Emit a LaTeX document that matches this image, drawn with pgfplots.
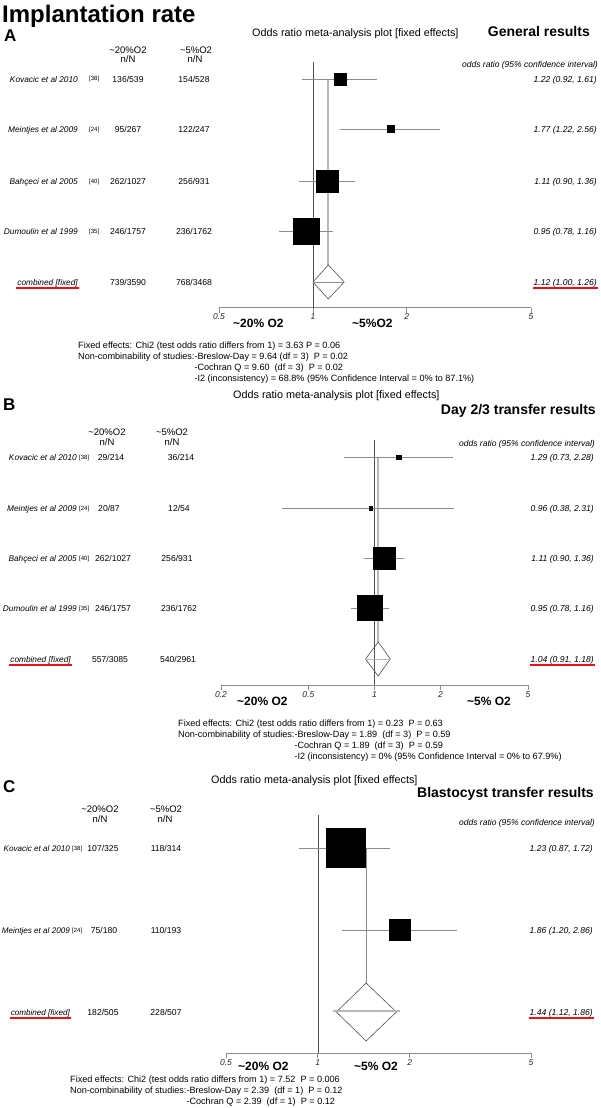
\documentclass[border=0pt]{standalone}
\usepackage{pgfplots}
\pgfplotsset{compat=1.18}
\usepackage{fontspec}
\setmainfont{Liberation Sans}
\newcommand\fs[1]{\fontsize{#1}{#1}\selectfont}
\definecolor{lgray}{HTML}{B8B8B8}
\definecolor{mgray}{HTML}{8C8C8C}
\definecolor{dgray}{HTML}{505050}
\definecolor{ulred}{HTML}{E8101A}
\pgfplotsset{
  every axis/.append style={
  scale only axis, axis x line*=bottom, axis y line=none,
  enlargelimits=false, clip=false,
  x axis line style={mgray, line width=0.8pt},
  xtick style={mgray, line width=0.8pt},
  tick align=outside, major tick length=5pt,
  xticklabel style={font=\fs{8.5}\itshape, text=black!85, inner sep=1pt},
  ytick=\empty},
}
\tikzset{
  r/.style={inner sep=0pt, font=\fs{8.6}},
  ri/.style={inner sep=0pt, font=\fs{8.3}\itshape},
  ric/.style={inner sep=0pt, font=\fs{8.1}\itshape},
  ro/.style={inner sep=0pt, font=\fs{8.6}\itshape},
  rf/.style={inner sep=0pt, font=\fs{6}},
  hd/.style={inner sep=0pt, font=\fs{9.5}},
  st/.style={inner sep=0pt, font=\fontsize{9.1}{11}\selectfont},
  tt/.style={inner sep=0pt, font=\fs{10.8}},
  bt/.style={inner sep=0pt, font=\fs{14}\bfseries},
  lt/.style={inner sep=0pt, font=\fs{17}\bfseries},
  lb/.style={inner sep=0pt, font=\fs{12}\bfseries},
  hr/.style={inner sep=0pt, font=\fs{8.5}\itshape},
  ul/.style={ulred, line width=1.3pt},
}
\begin{document}
\begin{tikzpicture}
\path[use as bounding box] (0pt,0pt) rectangle (600pt,-1108pt);

% ================= Panel A =================
\begin{axis}[xmode=log, at={(219pt,-307.5pt)}, anchor=south west, width=312pt, height=257.5pt,
  xmin=0.5, xmax=5, ymin=-307.5, ymax=-50,
  xtick={0.5,1,2,5}, xticklabels={0.5,1,2,5}]
\addplot[dgray, line width=0.6pt] coordinates {(1,-62) (1,-307.5)};
\addplot[lgray, line width=1.6pt] coordinates {(1.12,-79) (1.12,-265)};
\addplot[mgray, line width=0.6pt] coordinates {(0.92,-79) (1.61,-79)};
\addplot[mgray, line width=0.6pt] coordinates {(1.22,-129) (2.56,-129)};
\addplot[mgray, line width=0.6pt] coordinates {(0.90,-181) (1.36,-181)};
\addplot[mgray, line width=0.6pt] coordinates {(0.78,-231) (1.16,-231)};
\addplot[only marks, mark=square*, mark size=6pt, black] coordinates {(1.22,-79)};
\addplot[only marks, mark=square*, mark size=3.5pt, black] coordinates {(1.77,-129)};
\addplot[only marks, mark=square*, mark size=11pt, black] coordinates {(1.11,-181)};
\addplot[only marks, mark=square*, mark size=12.8pt, black] coordinates {(0.95,-231)};
\addplot[dgray, line width=0.6pt] coordinates {(1.00,-282) (1.12,-265) (1.26,-282) (1.12,-299) (1.00,-282)};
\addplot[mgray, line width=0.5pt] coordinates {(1.00,-282) (1.26,-282)};
\end{axis}

% ================= Panel B =================
\begin{axis}[xmode=log, at={(221pt,-685pt)}, anchor=south west, width=307pt, height=265pt,
  xmin=0.2, xmax=5, ymin=-685, ymax=-420,
  xtick={0.2,0.5,1,2,5}, xticklabels={0.2,0.5,1,2,5}]
\addplot[dgray, line width=0.6pt] coordinates {(1,-440) (1,-685)};
\addplot[lgray, line width=1.6pt] coordinates {(1.04,-457) (1.04,-642)};
\addplot[mgray, line width=0.6pt] coordinates {(0.73,-457) (2.28,-457)};
\addplot[mgray, line width=0.6pt] coordinates {(0.38,-508) (2.31,-508)};
\addplot[mgray, line width=0.6pt] coordinates {(0.90,-558) (1.36,-558)};
\addplot[mgray, line width=0.6pt] coordinates {(0.78,-608) (1.16,-608)};
\addplot[only marks, mark=square*, mark size=2.2pt, black] coordinates {(1.29,-457)};
\addplot[only marks, mark=square*, mark size=1.9pt, black] coordinates {(0.96,-508)};
\addplot[only marks, mark=square*, mark size=11pt, black] coordinates {(1.11,-558)};
\addplot[only marks, mark=square*, mark size=12.5pt, black] coordinates {(0.95,-608)};
\addplot[dgray, line width=0.6pt] coordinates {(0.91,-659) (1.04,-642) (1.18,-659) (1.04,-676) (0.91,-659)};
\addplot[lgray, line width=1pt] coordinates {(0.91,-659) (1.18,-659)};
\end{axis}

% ================= Panel C =================
\begin{axis}[xmode=log, at={(226pt,-1053pt)}, anchor=south west, width=305pt, height=253pt,
  xmin=0.5, xmax=5, ymin=-1053, ymax=-800,
  xtick={0.5,1,2,5}, xticklabels={0.5,1,2,5}]
\addplot[dgray, line width=0.6pt] coordinates {(1,-815) (1,-1053)};
\addplot[mgray, line width=0.8pt] coordinates {(1.44,-848) (1.44,-983)};
\addplot[mgray, line width=0.6pt] coordinates {(0.87,-848) (1.72,-848)};
\addplot[mgray, line width=0.6pt] coordinates {(1.20,-930) (2.86,-930)};
\addplot[only marks, mark=square*, mark size=19.5pt, black] coordinates {(1.23,-848)};
\addplot[only marks, mark=square*, mark size=10.5pt, black] coordinates {(1.86,-930)};
\addplot[dgray, line width=0.6pt] coordinates {(1.15,-1012) (1.44,-983) (1.81,-1012) (1.44,-1041) (1.15,-1012)};
\addplot[lgray, line width=1.2pt] coordinates {(1.12,-1011) (1.86,-1011)};
\end{axis}

\begin{scope}[x=1pt,y=1pt]
% ---- A text
\node[inner sep=0pt, font=\fs{24}\bfseries, anchor=base west] at (2,-23) {Implantation rate};
\node[lt, anchor=base west] at (4,-42) {A};
\node[tt, anchor=base west] at (252,-37) {Odds ratio meta-analysis plot [fixed effects]};
\node[bt, anchor=base east] at (590,-37) {General results};
\node[hd, anchor=base] at (128,-53) {\textasciitilde20\%O2};
\node[hd, anchor=base] at (128,-63) {n/N};
\node[hd, anchor=base] at (196,-53) {\textasciitilde5\%O2};
\node[hd, anchor=base] at (195,-63) {n/N};
\node[hr, anchor=base east] at (598,-67) {odds ratio (95\% confidence interval)};

\node[ri, anchor=base east] at (78,-82) {Kovacic et al 2010};
\node[rf, anchor=base west] at (89,-81) {[38]};
\node[r, anchor=base] at (128,-82) {136/539};
\node[r, anchor=base] at (194,-82) {154/528};
\node[ro, anchor=base east] at (597,-82) {1.22 (0.92, 1.61)};

\node[ri, anchor=base east] at (78,-132) {Meintjes et al 2009};
\node[rf, anchor=base west] at (89,-131) {[24]};
\node[r, anchor=base] at (128,-132) {95/267};
\node[r, anchor=base] at (194,-132) {122/247};
\node[ro, anchor=base east] at (597,-132) {1.77 (1.22, 2.56)};

\node[ri, anchor=base east] at (78,-184) {Bahçeci et al 2005};
\node[rf, anchor=base west] at (89,-183) {[40]};
\node[r, anchor=base] at (128,-184) {262/1027};
\node[r, anchor=base] at (194,-184) {256/931};
\node[ro, anchor=base east] at (597,-184) {1.11 (0.90, 1.36)};

\node[ri, anchor=base east] at (78,-234) {Dumoulin et al 1999};
\node[rf, anchor=base west] at (89,-233) {[35]};
\node[r, anchor=base] at (128,-234) {246/1757};
\node[r, anchor=base] at (194,-234) {236/1762};
\node[ro, anchor=base east] at (597,-234) {0.95 (0.78, 1.16)};

\node[ri, anchor=base east] (ca) at (78,-285) {combined [fixed]};
\draw[ul] ([xshift=-1pt,yshift=-3pt]ca.base west) -- ([xshift=1pt,yshift=-3pt]ca.base east);
\node[r, anchor=base] at (128,-285) {739/3590};
\node[r, anchor=base] at (194,-285) {768/3468};
\node[ro, anchor=base east] (oa) at (597,-285) {1.12 (1.00, 1.26)};
\draw[ul] ([yshift=-3pt]oa.base west) -- ([xshift=1pt,yshift=-3pt]oa.base east);

\node[lb, anchor=base west] at (233,-327) {\textasciitilde20\% O2};
\node[lb, anchor=base west] at (352,-327) {\textasciitilde5\%O2};

\node[st, anchor=base west] at (78,-348) {\begin{tabular}[t]{@{}l@{}l@{}}
\multicolumn{2}{@{}l@{}}{Fixed effects: Chi2 (test odds ratio differs from 1) = 3.63 P = 0.06}\\
Non-combinability of studies:&-Breslow-Day = 9.64 (df = 3)\ \ P = 0.02\\
&-Cochran Q = 9.60\ \ (df = 3)\ \ P = 0.02\\
&-I2 (inconsistency) = 68.8\% (95\% Confidence Interval = 0\% to 87.1\%)
\end{tabular}};

% ---- B text
\node[tt, anchor=base west] at (233,-398) {Odds ratio meta-analysis plot [fixed effects]};
\node[lt, anchor=base west] at (3,-410) {B};
\node[bt, anchor=base east] at (596,-414) {Day 2/3 transfer results};
\node[hd, anchor=base] at (107,-435) {\textasciitilde20\%O2};
\node[hd, anchor=base] at (107,-445) {n/N};
\node[hd, anchor=base] at (172,-435) {\textasciitilde5\%O2};
\node[hd, anchor=base] at (172,-445) {n/N};
\node[hr, anchor=base east] at (595,-446) {odds ratio (95\% confidence interval)};

\node[ri, anchor=base east] at (77,-460) {Kovacic et al 2010};
\node[rf, anchor=base west] at (79,-459) {[38]};
\node[r, anchor=base] at (111,-460) {29/214};
\node[r, anchor=base] at (181,-460) {36/214};
\node[ro, anchor=base east] at (594,-460) {1.29 (0.73, 2.28)};

\node[ri, anchor=base east] at (77,-511) {Meintjes et al 2009};
\node[rf, anchor=base west] at (79,-510) {[24]};
\node[r, anchor=base] at (109,-511) {20/87};
\node[r, anchor=base] at (179,-511) {12/54};
\node[ro, anchor=base east] at (594,-511) {0.96 (0.38, 2.31)};

\node[ri, anchor=base east] at (77,-561) {Bahçeci et al 2005};
\node[rf, anchor=base west] at (79,-560) {[40]};
\node[r, anchor=base] at (113,-561) {262/1027};
\node[r, anchor=base] at (177,-561) {256/931};
\node[ro, anchor=base east] at (594,-561) {1.11 (0.90, 1.36)};

\node[ri, anchor=base east] at (77,-611) {Dumoulin et al 1999};
\node[rf, anchor=base west] at (79,-610) {[35]};
\node[r, anchor=base] at (113,-611) {246/1757};
\node[r, anchor=base] at (179,-611) {236/1762};
\node[ro, anchor=base east] at (594,-611) {0.95 (0.78, 1.16)};

\node[ri, anchor=base east] (cb) at (71,-662) {combined [fixed]};
\draw[ul] ([xshift=-1pt,yshift=-3pt]cb.base west) -- ([xshift=1pt,yshift=-3pt]cb.base east);
\node[r, anchor=base] at (110,-662) {557/3085};
\node[r, anchor=base] at (178,-662) {540/2961};
\node[ro, anchor=base east] (ob) at (594,-662) {1.04 (0.91, 1.18)};
\draw[ul] ([yshift=-3pt]ob.base west) -- ([xshift=1pt,yshift=-3pt]ob.base east);

\node[lb, anchor=base west] at (237,-705) {\textasciitilde20\% O2};
\node[lb, anchor=base west] at (467,-705) {\textasciitilde5\% O2};

\node[st, anchor=base west] at (178,-726) {\begin{tabular}[t]{@{}l@{}l@{}}
\multicolumn{2}{@{}l@{}}{Fixed effects: Chi2 (test odds ratio differs from 1) = 0.23\ \ P = 0.63}\\
Non-combinability of studies:\ &-Breslow-Day = 1.89\ \ (df = 3)\ \ P = 0.59\\
&-Cochran Q = 1.89\ \ (df = 3)\ \ P = 0.59\\
&-I2 (inconsistency) = 0\% (95\% Confidence Interval = 0\% to 67.9\%)
\end{tabular}};

% ---- C text
\node[tt, anchor=base west] at (211,-783) {Odds ratio meta-analysis plot [fixed effects]};
\node[lt, anchor=base west] at (3,-792) {C};
\node[bt, anchor=base east] at (594,-797) {Blastocyst transfer results};
\node[hd, anchor=base] at (100,-812) {\textasciitilde20\%O2};
\node[hd, anchor=base] at (100,-822) {n/N};
\node[hd, anchor=base] at (166,-812) {\textasciitilde5\%O2};
\node[hd, anchor=base] at (165,-822) {n/N};
\node[hr, anchor=base east] at (595,-825) {odds ratio (95\% confidence interval)};

\node[ric, anchor=base east] at (70,-851) {Kovacic et al 2010};
\node[rf, anchor=base west] at (72,-850) {[38]};
\node[r, anchor=base] at (103,-851) {107/325};
\node[r, anchor=base] at (166,-851) {118/314};
\node[ro, anchor=base east] at (593,-851) {1.23 (0.87, 1.72)};

\node[ric, anchor=base east] at (70,-933) {Meintjes et al 2009};
\node[rf, anchor=base west] at (72,-932) {[24]};
\node[r, anchor=base] at (104,-933) {75/180};
\node[r, anchor=base] at (166,-933) {110/193};
\node[ro, anchor=base east] at (593,-933) {1.86 (1.20, 2.86)};

\node[ric, anchor=base east] (cc) at (70,-1015) {combined [fixed]};
\draw[ul] ([xshift=-1pt,yshift=-3pt]cc.base west) -- ([xshift=1pt,yshift=-3pt]cc.base east);
\node[r, anchor=base] at (103,-1015) {182/505};
\node[r, anchor=base] at (166,-1015) {228/507};
\node[ro, anchor=base east] (oc) at (593,-1015) {1.44 (1.12, 1.86)};
\draw[ul] ([yshift=-3pt]oc.base west) -- ([xshift=1pt,yshift=-3pt]oc.base east);

\node[lb, anchor=base west] at (238,-1070) {\textasciitilde20\% O2};
\node[lb, anchor=base west] at (354,-1070) {\textasciitilde5\% O2};

\node[st, anchor=base west] at (70,-1082.5) {\begin{tabular}[t]{@{}l@{}l@{}}
\multicolumn{2}{@{}l@{}}{Fixed effects: Chi2 (test odds ratio differs from 1) = 7.52\ \ P = 0.006}\\
Non-combinability of studies:\ &-Breslow-Day = 2.39\ \ (df = 1)\ \ P = 0.12\\
&-Cochran Q = 2.39\ \ (df = 1)\ \ P = 0.12
\end{tabular}};
\end{scope}
\end{tikzpicture}
\end{document}
